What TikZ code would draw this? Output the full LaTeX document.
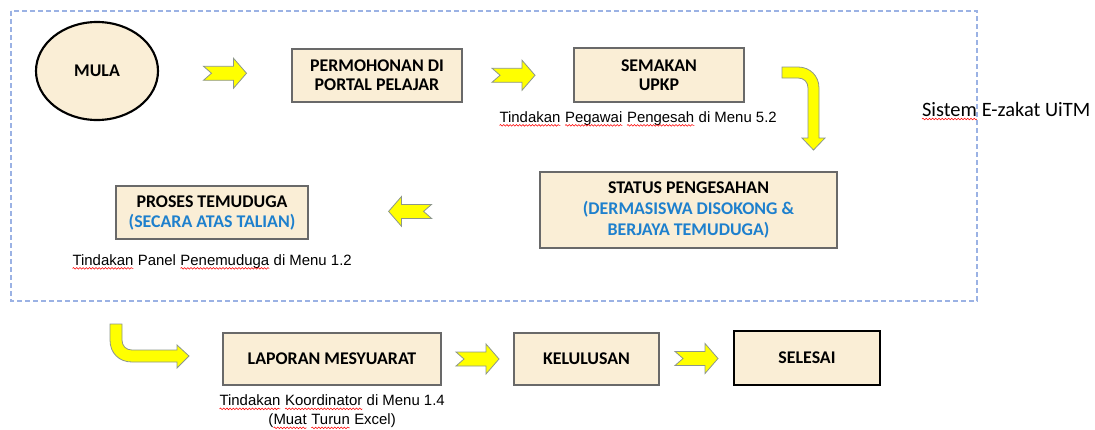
\documentclass[tikz,border=0pt]{standalone}
\usepackage{fontspec}
\setmainfont{Carlito}
\newfontfamily\capfont{Liberation Sans}
\usetikzlibrary{calc,shapes.geometric,decorations.pathmorphing}

\definecolor{boxfill}{RGB}{250,238,214}
\definecolor{boxline}{RGB}{105,105,105}
\definecolor{blutext}{RGB}{30,128,205}
\definecolor{arrowfill}{RGB}{255,255,0}
\definecolor{arrowline}{RGB}{140,150,140}
\definecolor{frameblue}{RGB}{155,178,228}

\tikzset{
  stagebox/.style={draw=boxline, line width=1pt, fill=boxfill, inner sep=0pt, outer sep=0pt,
    align=center, font=\bfseries\fontsize{13.4}{14.5}\selectfont},
  captext/.style={inner sep=0pt, align=center, font=\capfont\fontsize{11.2}{14.25}\selectfont},
  blockarrow/.style={fill=arrowfill, draw=arrowline, line width=0.6pt, line join=miter},
  spellwave/.style={draw=red, line width=0.4pt, decorate, decoration={snake, amplitude=0.6pt, segment length=2.4pt}},
  pics/yarrow/.style={code={
    \draw[blockarrow] (-21.5,-7) -- (8.5,-7) -- (8.5,-15) -- (21.5,0) -- (8.5,15) -- (8.5,7) -- (-21.5,7) -- (-13.5,0) -- cycle;
  }}
}

% red spell-check wave under a word
\newcommand\sq[1]{\tikz[baseline=(sqw.base),reset cm]{\node[draw=none,fill=none,inner sep=0pt,outer sep=0pt,anchor=base] (sqw) at (0pt,0pt) {#1};\draw[spellwave] ([yshift=-2.2pt]sqw.base west) -- ([yshift=-2.2pt]sqw.base east);}}

\begin{document}
\begin{tikzpicture}[x=0.75pt,y=0.75pt,yscale=-1,xscale=1]
\path[use as bounding box] (0,0) rectangle (1095,429);

%Shape: Rectangle (dashed frame)
\draw [color=frameblue, line width=0.8pt, dash pattern=on 3.5pt off 2.5pt] (11,11) rectangle (977,301);

%Shape: Ellipse
\node [stagebox, ellipse, draw=black, line width=1.6pt, minimum width=91.5pt, minimum height=73.5pt] (mula) at (97,71) {MULA};
%Shape: Rectangle
\node [stagebox, minimum width=127.5pt, minimum height=39.75pt] (permohonan) at (377,75.5) {PERMOHONAN DI\\PORTAL PELAJAR};
%Shape: Rectangle
\node [stagebox, minimum width=127.5pt, minimum height=40.5pt] (semakan) at (659,75) {SEMAKAN\\UPKP};
%Shape: Rectangle
\node [stagebox, minimum width=222.75pt, minimum height=57pt, font=\bfseries\fontsize{13.4}{16}\selectfont] (status) at (688.5,210)
  {STATUS PENGESAHAN\\\textcolor{blutext}{(DERMASISWA DISOKONG \&}\\\textcolor{blutext}{BERJAYA TEMUDUGA)}};
%Shape: Rectangle
\node [stagebox, minimum width=144pt, minimum height=39.75pt, font=\bfseries\fontsize{13.4}{15}\selectfont] (proses) at (212,212.5)
  {PROSES TEMUDUGA\\\textcolor{blutext}{(SECARA ATAS TALIAN)}};
%Shape: Rectangle
\node [stagebox, minimum width=163.5pt, minimum height=39pt] (laporan) at (332,359) {LAPORAN MESYUARAT};
%Shape: Rectangle
\node [stagebox, minimum width=108.75pt, minimum height=39pt] (kelulusan) at (586.5,359) {KELULUSAN};
%Shape: Rectangle
\node [stagebox, draw=black, line width=2.2pt, minimum width=109.5pt, minimum height=40.5pt] (selesai) at (807,358) {SELESAI};

%Block Arrows
\pic at ($(mula.east)!0.5!(permohonan.west)$) {yarrow};
\pic at ($(permohonan.east)!0.46!(semakan.west)$) {yarrow};
\pic [rotate=180] at ($(proses.east)!0.44!(status.west)$) {yarrow};
\pic at ($(laporan.east)!0.5!(kelulusan.west)$) {yarrow};
\pic at ($(kelulusan.east)!0.5!(selesai.west)$) {yarrow};

%Bent Arrow (SEMAKAN to STATUS)
\draw [blockarrow] (782,67) -- (798,67) .. controls (810,67) and (819,76) .. (819,88) -- (819,138) -- (825,138) -- (813.5,150) -- (802,138) -- (808,138) -- (808,88) .. controls (808,82) and (804,78) .. (798,78) -- (782,78) -- cycle;
%Bent Arrow (PROSES to LAPORAN)
\draw [blockarrow] (110,324) -- (122,324) -- (122,340) .. controls (122,346) and (126,350) .. (132,350) -- (177,350) -- (177,345) -- (189,356) -- (177,368) -- (177,362) -- (132,362) .. controls (119,362) and (110,353) .. (110,340) -- cycle;

% Text Node
\node [captext] (capsemakan) at (638,119) {\sq{Tindakan} \sq{Pegawai} \sq{Pengesah} di Menu 5.2};
% Text Node
\node [captext] (capproses) at (212,262) {\sq{Tindakan} Panel \sq{Penemuduga} di Menu 1.2};
% Text Node
\node [captext] (caplaporan) at (332,412) {\sq{Tindakan} \sq{Koordinator} di Menu 1.4\\(\sq{Muat} \sq{Turun} Excel)};
% Text Node
\node [inner sep=0pt, font=\fontsize{15.3}{18}\selectfont] (sistem) at (1006,111) {\sq{Sistem} E-zakat UiTM};

\end{tikzpicture}
\end{document}
